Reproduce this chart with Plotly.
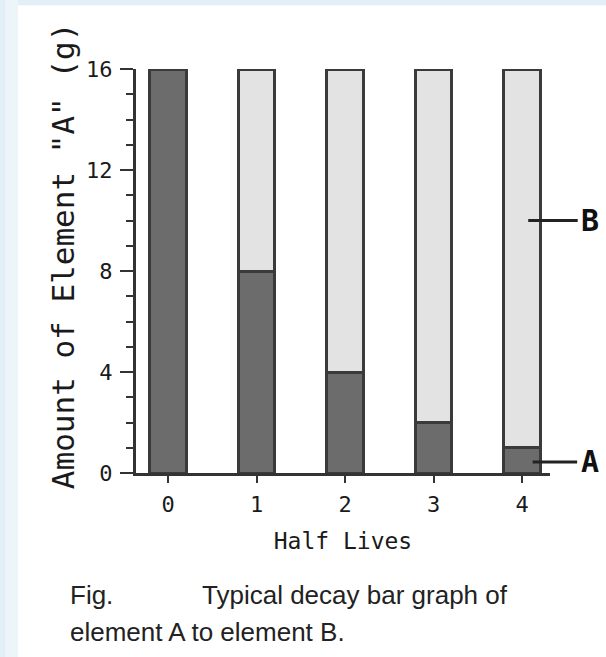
import plotly.graph_objects as go

# Decay of element A into element B over successive half lives
half_lives = [0, 1, 2, 3, 4]
amount_a = [16, 8, 4, 2, 1]
amount_b = [0, 8, 12, 14, 15]
y_ticks = [0, 4, 8, 12, 16]

dark_fill = "#6c6c6c"
light_fill = "#e3e3e3"
edge = "#3a3a3a"
mono = "DejaVu Sans Mono"
ink = "#1a1a1a"

fig = go.Figure()
fig.add_trace(go.Bar(x=half_lives, y=amount_a, width=0.41, name="A",
                     marker=dict(color=dark_fill, line=dict(color=edge, width=3))))
fig.add_trace(go.Bar(x=half_lives, y=amount_b, width=0.41, name="B",
                     marker=dict(color=light_fill, line=dict(color=edge, width=3))))

# light blue page frame on the left and top edges
fig.add_shape(type="rect", xref="paper", yref="paper", x0=-0.34, x1=1.2, y0=-0.5, y1=1.2,
              fillcolor="#e2eff7", line_width=0, layer="below")
fig.add_shape(type="rect", xref="paper", yref="paper", x0=-0.316, x1=-0.285, y0=-0.5, y1=1.2,
              fillcolor="#edf5fa", line_width=0, layer="below")
fig.add_shape(type="rect", xref="paper", yref="paper", x0=-0.285, x1=1.2, y0=-0.5, y1=1.158,
              fillcolor="white", line_width=0, layer="below")

# y axis title, placed slightly above the plot's vertical centre
fig.add_annotation(x=-0.176, y=0.537, xref="paper", yref="paper",
                   text='Amount of Element "A" (g)', textangle=-90, showarrow=False,
                   xanchor="center", yanchor="middle",
                   font=dict(family=mono, size=31, color=ink))

# component labels with leader lines
fig.add_annotation(x=4.07, y=10, xref="x", yref="y", text="<b>B</b>", showarrow=True,
                   ax=62, ay=0, arrowhead=0, arrowwidth=3, arrowcolor="#222",
                   startstandoff=2, font=dict(family=mono, size=30, color="#111"))
fig.add_annotation(x=4.12, y=0.44, xref="x", yref="y", text="<b>A</b>", showarrow=True,
                   ax=57, ay=0, arrowhead=0, arrowwidth=3, arrowcolor="#222",
                   startstandoff=2, font=dict(family=mono, size=30, color="#111"))

# figure caption
cap_font = dict(family="Liberation Sans, Arial", size=26, color="#222")
fig.add_annotation(x=-0.164, y=-0.302, xref="paper", yref="paper", text="Fig.",
                   showarrow=False, xanchor="left", yanchor="middle", font=cap_font)
fig.add_annotation(x=0.155, y=-0.302, xref="paper", yref="paper",
                   text="Typical decay bar graph of",
                   showarrow=False, xanchor="left", yanchor="middle", font=cap_font)
fig.add_annotation(x=-0.164, y=-0.394, xref="paper", yref="paper",
                   text="element A to element B.",
                   showarrow=False, xanchor="left", yanchor="middle", font=cap_font)

fig.update_layout(
    width=606, height=657,
    margin=dict(l=136, r=56, t=69, b=184),
    barmode="stack",
    showlegend=False,
    paper_bgcolor="white",
    plot_bgcolor="white",
    hovermode=False,
    xaxis=dict(
        range=[-0.362, 4.316],
        tickvals=half_lives,
        ticktext=[str(v) for v in half_lives],
        showline=True, linecolor="#333", linewidth=3,
        ticks="outside", ticklen=7, tickwidth=2, tickcolor="#333",
        ticklabelstandoff=3,
        showgrid=False, zeroline=False,
        tickfont=dict(family=mono, size=22, color=ink),
        title=dict(text="Half Lives", standoff=17,
                   font=dict(family=mono, size=23, color=ink)),
    ),
    yaxis=dict(
        range=[0, 16],
        tickvals=y_ticks,
        showline=True, linecolor="#333", linewidth=3,
        ticks="outside", ticklen=13, tickwidth=2, tickcolor="#333",
        minor=dict(dtick=1, ticks="outside", ticklen=7, tickwidth=2, tickcolor="#333"),
        ticklabelstandoff=3,
        showgrid=False, zeroline=False,
        tickfont=dict(family=mono, size=22, color=ink),
    ),
)

fig.write_html("out.html")
